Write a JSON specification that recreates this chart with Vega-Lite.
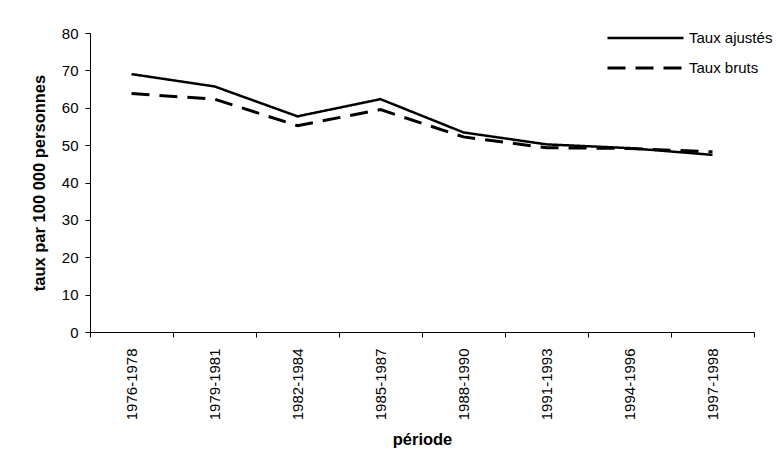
{
  "$schema": "https://vega.github.io/schema/vega-lite/v6.json",
  "width": 664,
  "height": 299,
  "autosize": {"type": "none"},
  "padding": {"left": 90, "top": 33, "right": 23, "bottom": 131},
  "background": "white",
  "config": {
    "view": {"stroke": null},
    "font": "Liberation Sans",
    "axis": {
      "domainColor": "black",
      "domainWidth": 1,
      "tickColor": "black",
      "tickWidth": 1,
      "tickSize": 5,
      "grid": false,
      "labelColor": "black",
      "labelFont": "Liberation Sans",
      "labelFontSize": 15,
      "titleColor": "black",
      "titleFont": "Liberation Sans",
      "titleFontSize": 16.5,
      "titleFontWeight": "bold"
    }
  },
  "data": {
    "values": [
      {"periode": "1976-1978", "serie": "Taux ajustés", "taux": 69.0},
      {"periode": "1979-1981", "serie": "Taux ajustés", "taux": 65.7},
      {"periode": "1982-1984", "serie": "Taux ajustés", "taux": 57.7},
      {"periode": "1985-1987", "serie": "Taux ajustés", "taux": 62.3},
      {"periode": "1988-1990", "serie": "Taux ajustés", "taux": 53.4},
      {"periode": "1991-1993", "serie": "Taux ajustés", "taux": 50.2},
      {"periode": "1994-1996", "serie": "Taux ajustés", "taux": 49.2},
      {"periode": "1997-1998", "serie": "Taux ajustés", "taux": 47.4},
      {"periode": "1976-1978", "serie": "Taux bruts", "taux": 63.8},
      {"periode": "1979-1981", "serie": "Taux bruts", "taux": 62.3},
      {"periode": "1982-1984", "serie": "Taux bruts", "taux": 55.2},
      {"periode": "1985-1987", "serie": "Taux bruts", "taux": 59.5},
      {"periode": "1988-1990", "serie": "Taux bruts", "taux": 52.2},
      {"periode": "1991-1993", "serie": "Taux bruts", "taux": 49.3},
      {"periode": "1994-1996", "serie": "Taux bruts", "taux": 49.1},
      {"periode": "1997-1998", "serie": "Taux bruts", "taux": 48.2}
    ]
  },
  "encoding": {
    "x": {
      "field": "periode",
      "type": "nominal",
      "sort": null,
      "bandPosition": 0.5,
      "scale": {"type": "band", "paddingInner": 0, "paddingOuter": 0},
      "axis": {
        "title": "période",
        "labelAngle": 270,
        "labelPadding": 11,
        "tickBand": "extent",
        "titleY": 107,
        "titleBaseline": "middle"
      }
    },
    "y": {
      "field": "taux",
      "type": "quantitative",
      "scale": {"domain": [0, 80], "nice": false, "zero": true},
      "axis": {
        "title": "taux par 100 000 personnes",
        "values": [0, 10, 20, 30, 40, 50, 60, 70, 80],
        "labelPadding": 7,
        "titleX": -51,
        "titleY": 149.5,
        "titleBaseline": "middle",
        "titleAngle": 270
      }
    }
  },
  "layer": [
    {
      "transform": [{"filter": "datum.serie === 'Taux ajustés'"}],
      "mark": {"type": "line", "color": "black", "strokeWidth": 2.5},
      "encoding": {
        "strokeDash": {
          "field": "serie",
          "type": "nominal",
          "scale": {"domain": ["Taux ajustés"], "range": [[1, 0]]},
          "legend": {
            "title": null,
            "orient": "none",
            "legendX": 516,
            "legendY": -34.5,
            "padding": 0,
            "symbolType": "stroke",
            "symbolSize": 5776,
            "symbolStrokeWidth": 2.5,
            "symbolStrokeColor": "black",
            "labelFont": "Liberation Sans",
            "labelFontSize": 15,
            "labelColor": "black",
            "labelOffset": 4
          }
        }
      }
    },
    {
      "transform": [{"filter": "datum.serie === 'Taux bruts'"}],
      "mark": {"type": "line", "color": "black", "strokeWidth": 3},
      "encoding": {
        "strokeDash": {
          "field": "serie",
          "type": "nominal",
          "scale": {"domain": ["Taux bruts"], "range": [[18, 10]]},
          "legend": {
            "title": null,
            "orient": "none",
            "legendX": 516,
            "legendY": -4.5,
            "padding": 0,
            "symbolType": "stroke",
            "symbolSize": 5776,
            "symbolStrokeWidth": 3,
            "symbolStrokeColor": "black",
            "labelFont": "Liberation Sans",
            "labelFontSize": 15,
            "labelColor": "black",
            "labelOffset": 4
          }
        }
      }
    }
  ],
  "resolve": {"scale": {"strokeDash": "independent"}, "legend": {"strokeDash": "independent"}}
}
